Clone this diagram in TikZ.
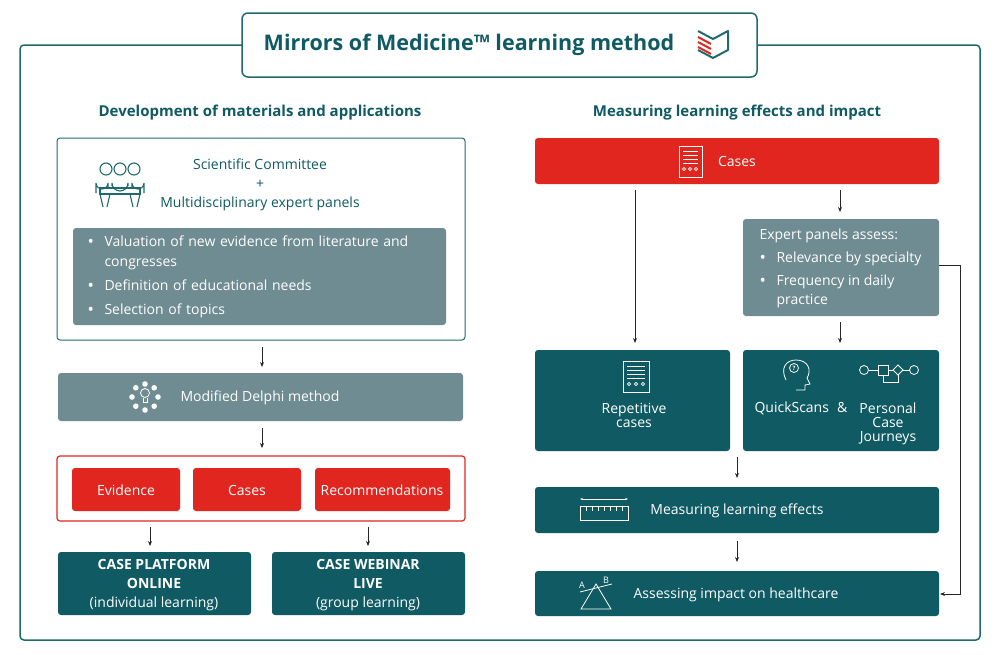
\documentclass[tikz,border=0pt]{standalone}
\usepackage{fontspec}
\setmainfont{Open Sans}
\usetikzlibrary{arrows.meta}
\definecolor{teal1}{HTML}{0F5A63}
\definecolor{gray1}{HTML}{6F8C92}
\definecolor{red1}{HTML}{E0261F}
\definecolor{frame1}{HTML}{1F6A6E}
\newcommand{\bul}{\makebox[17pt][l]{\raisebox{-1.5pt}{\fontsize{17}{17}\selectfont\textbullet}}}
\begin{document}
\begin{tikzpicture}[x=1pt,y=-1pt,
  box/.style={rounded corners=3pt},
  arr/.style={-{Stealth[length=5pt,width=4pt]},line width=0.8pt,black!85},
  wt/.style={text=white,font=\fontsize{14}{17}\selectfont,align=center},
  ic/.style={white,line width=0.8pt}]
\useasboundingbox (0,0) rectangle (1000,654);
\fill[white] (0,0) rectangle (1000,654);
\draw[frame1,line width=1.5pt,rounded corners=4pt] (20,45) rectangle (980,640);
\draw[frame1,line width=1.5pt,fill=white,rounded corners=6pt] (242,13) rectangle (757,77);
\node[text=teal1,font=\fontsize{21.5}{24}\selectfont\bfseries] (title) at (469,45) {Mirrors of Medicine™ learning method};
% logo
\draw[frame1,line width=2pt,line join=round] (698,31) -- (713,39) -- (728,31) -- (728,50) -- (713,58) -- (698,50);
\foreach \d in {0,5,10} \draw[red1,line width=2pt] (698,37+\d) -- (711,44+\d);
% headings
\node[text=teal1,font=\fontsize{15}{18}\selectfont\bfseries] (hl) at (260,113) {Development of materials and applications};
\node[text=teal1,font=\fontsize{15}{18}\selectfont\bfseries] (hr) at (737,113) {Measuring learning effects and impact};
% left top box
\draw[frame1,line width=1pt,rounded corners=3pt] (57,138) rectangle (465,340);
\node[text=teal1,font=\fontsize{14}{19}\selectfont,align=center] (sc) at (260,185) {Scientific Committee\\+\\Multidisciplinary expert panels};
\begin{scope}[frame1,line width=1.1pt]
\foreach \x in {106,120,134} \draw (\x,169) circle (6);
\draw (96,193) -- (96,183) arc (180:0:6) -- (108,188);
\draw (112,186) -- ++(0,-3) arc (180:0:8) -- ++(0,3);
\draw (144,193) -- (144,183) arc (0:180:6) -- (132,188);
\draw (100,188) rectangle (140,194);
\draw (100,194) -- (103,207) (107,207) -- (110,194);
\draw (140,194) -- (137,207) (133,207) -- (130,194);
\end{scope}
\fill[gray1,box] (73,228) rectangle (446,325);
\node[text=white,font=\fontsize{14}{20}\selectfont,anchor=north west,align=left,text width=360pt] (bl) at (84,232) {%
\bul Valuation of new evidence from literature and\\\hspace{17pt}congresses\\[4pt]
\bul Definition of educational needs\\[4pt]
\bul Selection of topics};
\coordinate (a1s) at (262,347); \coordinate (a1e) at (262,367);
\draw[arr] (a1s) -- (a1e);
% Delphi
\fill[gray1,box] (58,373) rectangle (463,421);
\node[wt] (delphi) at (260,398) {Modified Delphi method};
\begin{scope}[ic]
\foreach \a in {0,45,...,315} \fill[white] (145,397) ++(\a:13) circle (2.8);
\draw (145,393) circle (4.5); \draw (143,398) -- (143,402) -- (147,402) -- (147,398);
\end{scope}
\coordinate (a2s) at (262,428); \coordinate (a2e) at (262,448);
\draw[arr] (a2s) -- (a2e);
% red group
\draw[red1,line width=1.2pt,rounded corners=3pt] (57,456) rectangle (465,521);
\fill[red1,box] (72,468) rectangle (180,511); \node[wt] (ev) at (126,490) {Evidence};
\fill[red1,box] (193,468) rectangle (301,511); \node[wt] (cs) at (247,490) {Cases};
\fill[red1,box] (315,468) rectangle (450,511); \node[wt] (rc) at (382,490) {Recommendations};
\coordinate (a3s) at (150,527); \coordinate (a3e) at (150,546);
\coordinate (a4s) at (368,527); \coordinate (a4e) at (368,546);
\draw[arr] (a3s) -- (a3e); \draw[arr] (a4s) -- (a4e);
\fill[teal1,box] (58,552) rectangle (251,615);
\node[wt,font=\fontsize{14}{19}\selectfont] (cpo) at (154,585) {\textbf{CASE PLATFORM}\\\textbf{ONLINE}\\(individual learning)};
\fill[teal1,box] (272,552) rectangle (465,615);
\node[wt,font=\fontsize{14}{19}\selectfont] (cwl) at (368,585) {\textbf{CASE WEBINAR}\\\textbf{LIVE}\\(group learning)};
% right side
\fill[red1,box] (535,138) rectangle (939,184);
\node[wt] (cases) at (737,161) {Cases};
\begin{scope}[ic,line width=0.6pt]
\draw (679,146) rectangle (702,177);
\foreach \y in {151,155,159,163} \draw (683,\y) -- (698,\y);
\foreach \x in {684,690,696} \draw (\x,169) circle (1.6);
\end{scope}
\coordinate (b1s) at (635,190); \coordinate (b1e) at (635,343);
\draw[arr] (b1s) -- (b1e);
\coordinate (b2s) at (840,190); \coordinate (b2e) at (840,212);
\draw[arr] (b2s) -- (b2e);
\fill[gray1,box] (743,219) rectangle (939,316);
\node[text=white,font=\fontsize{14}{19}\selectfont,anchor=north west,align=left] (exp) at (756,225) {Expert panels assess:\\[4pt]
\bul Relevance by specialty\\[4pt]
\bul Frequency in daily\\\hspace{17pt}practice};
\coordinate (b3s) at (840,322); \coordinate (b3e) at (840,343);
\draw[arr] (b3s) -- (b3e);
\fill[teal1,box] (535,350) rectangle (730,451);
\node[wt] (rep) at (634,415) {Repetitive\\[-3pt]cases};
\begin{scope}[ic,line width=0.6pt]
\draw (623,361) rectangle (649,392);
\foreach \y in {366,370,374,378} \draw (627,\y) -- (645,\y);
\foreach \x in {629,636,643} \draw (\x,384) circle (1.6);
\end{scope}
\fill[teal1,box] (743,350) rectangle (939,451);
\node[wt,anchor=west] (qs) at (751,408) {QuickScans\hspace{8pt}\&};
\node[wt] (pcj) at (888,424) {Personal\\[-3pt]Case\\[-3pt]Journeys};
\begin{scope}[ic]
\draw (786,380) .. controls (780,368) and (786,360) .. (796,360) .. controls (808,360) and (812,370) .. (807,378) -- (810,384) -- (805,385) -- (805,390) -- (796,390);
\draw (794,368) circle (4.5); \node[white,font=\fontsize{6}{6}\selectfont\bfseries] (qm) at (794,368) {?};
\draw (864,370) circle (4.5); \draw (878,365) rectangle (888,375);
\draw (898,365) -- (903,370) -- (898,375) -- (893,370) -- cycle;
\draw (914,370) circle (4.5);
\draw (868.5,370) -- (878,370) (888,370) -- (893,370) (903,370) -- (909.5,370);
\draw (883,375) -- (883,382) -- (898,382) -- (898,375);
\end{scope}
\coordinate (b4s) at (737,457); \coordinate (b4e) at (737,478);
\draw[arr] (b4s) -- (b4e);
\fill[teal1,box] (535,487) rectangle (939,533);
\node[wt] (mle) at (737,511) {Measuring learning effects};
\begin{scope}[ic]
\draw (580,506) rectangle (628,520);
\foreach \x in {586,592,...,622} \draw (\x,506) -- (\x,511);
\draw[{Stealth[length=3pt]}-{Stealth[length=3pt]}] (580,499) -- (628,499);
\end{scope}
\coordinate (b5s) at (737,541); \coordinate (b5e) at (737,562);
\draw[arr] (b5s) -- (b5e);
\fill[teal1,box] (535,571) rectangle (939,616);
\node[wt] (aih) at (736,595) {Assessing impact on healthcare};
\begin{scope}[ic]
\draw (581,609) -- (596,584) -- (611,609) -- cycle;
\draw (580,592) -- (612,584);
\node[white,font=\fontsize{9}{9}\selectfont] (la) at (582,585) {A};
\node[white,font=\fontsize{9}{9}\selectfont] (lb) at (606,580) {B};
\end{scope}
\coordinate (s1) at (939,265); \coordinate (s2) at (960,265); \coordinate (s3) at (960,594); \coordinate (s4) at (940,594);
\draw[arr] (s1) -- (s2) -- (s3) -- (s4);
\end{tikzpicture}
\end{document}
